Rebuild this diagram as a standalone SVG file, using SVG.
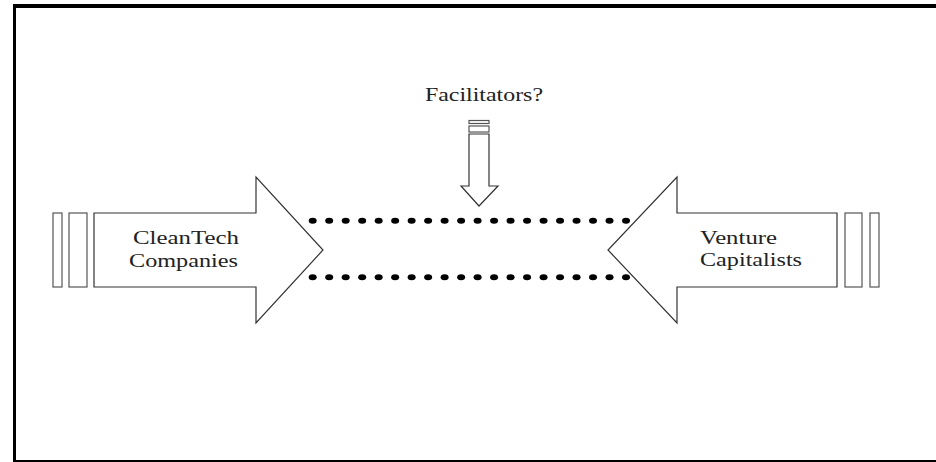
<svg xmlns="http://www.w3.org/2000/svg" width="936" height="462" viewBox="0 0 936 462">
  <style>
    .frame { fill: none; stroke: #000; }
    .shape { fill: #fff; stroke: #333; stroke-width: 1.2; }
    .bar { fill: #fff; stroke: #555; stroke-width: 1.2; }
    .label { font-family: "Liberation Serif", "Times New Roman", serif; font-size: 18px; fill: #222; }
    .dot { fill: #000; }
  </style>
  <defs>
    <ellipse id="d" class="dot" cx="0" cy="0" rx="4" ry="3"/>
  </defs>
  <rect width="936" height="462" fill="#fff"/>

  <!-- frame: top, left and bottom rules -->
  <line class="frame" x1="13" y1="6" x2="936" y2="6" stroke-width="4"/>
  <line class="frame" x1="14.5" y1="4" x2="14.5" y2="462" stroke-width="3"/>
  <line class="frame" x1="13" y1="461" x2="936" y2="461" stroke-width="2"/>

  <g id="cleantech">
    <rect class="bar" x="53" y="213" width="9" height="74"/>
    <rect class="bar" x="69" y="213" width="18" height="74"/>
    <polygon class="shape" points="94,213 256,213 256,177 323,250 256,323 256,287 94,287"/>
    <text class="label" x="133" y="244" textLength="106" lengthAdjust="spacingAndGlyphs">CleanTech</text>
    <text class="label" x="129" y="266.5" textLength="109" lengthAdjust="spacingAndGlyphs">Companies</text>
  </g>

  <g id="venture">
    <rect class="bar" x="870" y="213" width="9" height="74"/>
    <rect class="bar" x="845" y="213" width="17" height="74"/>
    <polygon class="shape" points="837,213 677,213 677,177 608,250 677,323 677,287 837,287"/>
    <text class="label" x="700" y="244" textLength="77" lengthAdjust="spacingAndGlyphs">Venture</text>
    <text class="label" x="700" y="265.5" textLength="102" lengthAdjust="spacingAndGlyphs">Capitalists</text>
  </g>

  <g id="facilitators">
    <text class="label" x="425" y="101" textLength="118" lengthAdjust="spacingAndGlyphs">Facilitators?</text>
    <rect class="bar" x="469" y="120.5" width="20" height="3"/>
    <rect class="bar" x="469" y="126" width="20" height="6"/>
    <polygon class="shape" points="469,134 489,134 489,186 498,186 479,206 461,186 469,186"/>
  </g>

  <g id="connectors">
    <g id="row-top" transform="translate(312.7,220.7)">
      <use href="#d" x="0"/><use href="#d" x="16.49"/><use href="#d" x="32.98"/><use href="#d" x="49.47"/><use href="#d" x="65.96"/>
      <use href="#d" x="82.45"/><use href="#d" x="98.94"/><use href="#d" x="115.43"/><use href="#d" x="131.92"/><use href="#d" x="148.41"/>
      <use href="#d" x="164.9"/><use href="#d" x="181.39"/><use href="#d" x="197.88"/><use href="#d" x="214.37"/><use href="#d" x="230.86"/>
      <use href="#d" x="247.35"/><use href="#d" x="263.84"/><use href="#d" x="280.33"/><use href="#d" x="296.82"/><use href="#d" x="313.31"/>
    </g>
    <g id="row-bottom" transform="translate(312.7,277.3)">
      <use href="#d" x="0"/><use href="#d" x="16.49"/><use href="#d" x="32.98"/><use href="#d" x="49.47"/><use href="#d" x="65.96"/>
      <use href="#d" x="82.45"/><use href="#d" x="98.94"/><use href="#d" x="115.43"/><use href="#d" x="131.92"/><use href="#d" x="148.41"/>
      <use href="#d" x="164.9"/><use href="#d" x="181.39"/><use href="#d" x="197.88"/><use href="#d" x="214.37"/><use href="#d" x="230.86"/>
      <use href="#d" x="247.35"/><use href="#d" x="263.84"/><use href="#d" x="280.33"/><use href="#d" x="296.82"/><use href="#d" x="313.31"/>
    </g>
  </g>
</svg>
